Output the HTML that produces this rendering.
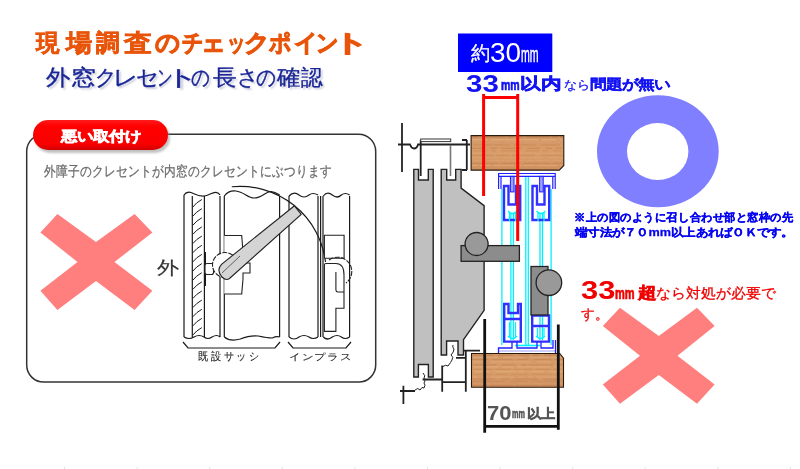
<!DOCTYPE html>
<html><head><meta charset="utf-8">
<style>
html,body{margin:0;padding:0;background:#fff;}
body{width:800px;height:469px;position:relative;overflow:hidden;font-family:"Liberation Sans",sans-serif;}
.t{position:absolute;white-space:nowrap;line-height:1;}
svg{position:absolute;left:0;top:0;}
</style></head><body>
<svg width="800" height="469" viewBox="0 0 800 469">
<defs>
<linearGradient id="pill" x1="0" y1="0" x2="0" y2="1">
<stop offset="0" stop-color="#ff1c1c"/><stop offset="0.2" stop-color="#ff0000"/><stop offset="0.8" stop-color="#fa0000"/><stop offset="1" stop-color="#d00000"/>
</linearGradient>
<linearGradient id="wood" x1="0" y1="0" x2="0" y2="1">
<stop offset="0" stop-color="#d29464"/><stop offset="0.5" stop-color="#d99e6a"/><stop offset="1" stop-color="#cf9060"/>
</linearGradient>
<filter id="sh" x="-10%" y="-20%" width="120%" height="150%"><feGaussianBlur stdDeviation="1.2"/></filter>
</defs>
<!-- ===== left panel ===== -->
<rect x="26.7" y="134.3" width="349" height="247.8" rx="17" ry="17" fill="none" stroke="#333" stroke-width="1.5"/>
<rect x="35" y="123" width="135" height="30" rx="15" ry="15" fill="#999" opacity="0.6" filter="url(#sh)"/>
<rect x="33" y="120" width="135" height="30" rx="15" ry="15" fill="url(#pill)"/>
<polygon fill="#ff7f7f" points="57.4,214 96,242 134.6,214 152.4,232.4 114.5,262 152.4,290.8 134.6,310 96,281 57.4,310 40.4,290.8 77.5,262 40.4,232.4"/>

<!-- left diagram -->
<g fill="none" stroke="#1a1a1a" stroke-width="1.2">
<!-- outer sash frame verticals -->
<path d="M184,195 V337 M192.3,196 V337 M204.4,196 V337 M220,196 V337 M224.3,196 V337 M279.6,196 V337 M289,196 V337 M318,196 V337 M320.6,196 V337 M323,196 V337 M349.6,196 V337"/>
<!-- top wavy -->
<path d="M184,195 C186,192 189,192 191,192.5 C195,194 198,196.5 204,196 C209,195.5 212,192 216,192.3 C218,192.5 219.5,194 220,195"/>
<path d="M224.3,196 C228,191 232,190.5 236,191 C244,192 248,198 254,198 C262,198 266,191 271,191.5 C275,192 278,194 279.6,195"/>
<path d="M289,196 q5,-5 10,-1 q5,4 10,0 q4,-3 9,0"/>
<path d="M323.3,196 q4,-5 9,-1 q5,4 9,0 q4,-3 8.3,0"/>
<!-- bottom wavy -->
<path d="M184,337 q5,3 10,0 q5,-3 10,0 q4,3 8,0 q5,-3 8,0"/>
<path d="M224.3,337 q6,5 16,2 q10,-4 18,-3 q9,2 14,2 q4,-2 7.3,-1"/>
<path d="M289,337 q5,4 10,0 q5,-3 10,0 q4,3 9,0"/>
<path d="M323.3,337 q4,4 9,0 q5,-3 9,0 q4,3 8.3,0"/>
<!-- hatch -->
<path stroke-width="1" d="M192.8,207.0 q3.5,-4.5 9,-7.5 M192.8,216.2 q3.5,-4.5 9,-7.5 M192.8,225.3 q3.5,-4.5 9,-7.5 M192.8,234.4 q3.5,-4.5 9,-7.5 M192.8,243.6 q3.5,-4.5 9,-7.5 M192.8,252.8 q3.5,-4.5 9,-7.5 M192.8,261.9 q3.5,-4.5 9,-7.5 M192.8,271.1 q3.5,-4.5 9,-7.5 M192.8,280.2 q3.5,-4.5 9,-7.5 M192.8,289.4 q3.5,-4.5 9,-7.5 M192.8,298.5 q3.5,-4.5 9,-7.5 M192.8,307.6 q3.5,-4.5 9,-7.5 M192.8,316.8 q3.5,-4.5 9,-7.5 M192.8,325.9 q3.5,-4.5 9,-7.5 M192.8,335.1 q3.5,-4.5 9,-7.5"/>
<!-- base plate thick -->
<path stroke-width="2" d="M205,252 V286"/>
<!-- swing arc -->
<path d="M231.75,186.75 A86,86 0 0,1 325.5,262"/>
<!-- brackets -->
<path d="M183,342 l5,6 H275 l5,-6"/>
<path d="M288,342 l5,6 H346 l5,-6"/>
</g>
<!-- outer keeper -->
<path fill="#fff" stroke="#222" stroke-width="1.1" d="M224.3,235.5 H241.7 L243,251.8 V263 H250 V273 H243 V279 L241.7,294 H224.3"/>
<rect x="205" y="263.5" width="8.5" height="11" rx="2" fill="#fff" stroke="#222" stroke-width="1.1"/>
<circle cx="225" cy="265" r="12.5" fill="#fff" stroke="#222" stroke-width="1.1" stroke-dasharray="5,1.2"/>
<!-- outer handle -->
<path fill="#d4d4d4" stroke="#222" stroke-width="1.1" d="M294.5,205.8 L221.5,264.3 Q216,270 222,277 Q226,281 229.5,278.5 L301.2,214.4 Z"/>
<path fill="none" stroke="#444" stroke-width="0.8" d="M222,273 L240,256"/>
<!-- inner crescent (inplus) -->
<path fill="#fff" stroke="#222" stroke-width="1.1" d="M324.4,235.3 H344.1 V258.3 H324.4 Z"/>
<path fill="none" stroke="#222" stroke-width="1.1" stroke-dasharray="5,1.2" d="M329,260 A14,14 0 1,1 346,283"/>
<path fill="#fff" stroke="#222" stroke-width="1.1" d="M324.4,331.4 V265 Q324.4,263.5 326,263.5 H336 Q344,263.5 344,275 V308.3 H335.9 V331.4 Z"/>
<path fill="none" stroke="#222" stroke-width="1.1" d="M335.9,272 V290 Q336,292 338,292 H344"/>
<!-- ===== right diagram ===== -->
<!-- top fixture -->
<g fill="none" stroke="#222" stroke-width="1.8">
<path d="M402,123 V172"/>
<path d="M398,144.5 H410 q1.5,4 4,4 q3,0 4,-4 H470"/>
<path d="M420.7,140 V176"/>
<path d="M466.8,140 V170 M462,140 H467 M462,170 H467"/>
</g>
<rect x="420.7" y="139" width="30" height="2.6" fill="#fff" stroke="#333" stroke-width="1"/>
<path d="M450.5,145 V176" stroke="#777" stroke-width="1.6"/>
<!-- gray profiles -->
<path fill="#c0c0c0" stroke="#222" stroke-width="1.4" d="M413.8,169.4 H418.5 V180 H428.3 V169.4 H433.2 V377 H428.4 V364.5 H418.4 V377 H413.8 Z"/>
<path fill="#c0c0c0" stroke="#222" stroke-width="1.4" d="M441.2,169.4 H446.7 V180 H455.7 V169.4 H461.1 V188.1 L484.1,205.7 V310.4 L463.5,339.7 V355 H458 V341 H446.6 V355 H441.2 Z"/>
<!-- wood top -->
<path fill="url(#wood)" d="M471.1,135.6 H563.8 V165.5 L559.3,170.1 H471.1 Z"/>
<g fill="none"><path d="M472.5,137.1 H563.0" stroke="#b27548" stroke-width="1.27" opacity="0.48" stroke-dasharray="6,4,23,2,6,3"/>
<path d="M471.7,139.8 H561.8" stroke="#e6b585" stroke-width="1.36" opacity="0.58" stroke-dasharray="16,3,25,1,22,2"/>
<path d="M472.4,142.0 H561.1" stroke="#e6b585" stroke-width="1.10" opacity="0.31" stroke-dasharray="8,1,19,4,17,3"/>
<path d="M472.9,144.9 H560.7" stroke="#bd7f4e" stroke-width="1.26" opacity="0.38" stroke-dasharray="19,2,16,4,22,5"/>
<path d="M471.9,148.3 H562.2" stroke="#bd7f4e" stroke-width="1.35" opacity="0.51" stroke-dasharray="13,6,6,4,21,5"/>
<path d="M473.0,150.9 H561.1" stroke="#b27548" stroke-width="1.36" opacity="0.27" stroke-dasharray="14,4,5,5,18,6"/>
<path d="M472.7,153.2 H561.5" stroke="#e3b07e" stroke-width="0.95" opacity="0.26" stroke-dasharray="17,3,9,2,20,3"/>
<path d="M472.0,155.4 H562.3" stroke="#bd7f4e" stroke-width="1.27" opacity="0.35" stroke-dasharray="22,2,13,3,23,6"/>
<path d="M472.2,157.9 H562.8" stroke="#e6b585" stroke-width="0.83" opacity="0.42" stroke-dasharray="10,2,15,4,11,2"/>
<path d="M473.5,160.8 H561.3" stroke="#e6b585" stroke-width="0.97" opacity="0.41" stroke-dasharray="12,2,17,1,5,2"/>
<path d="M471.7,163.4 H563.5" stroke="#b27548" stroke-width="1.36" opacity="0.30" stroke-dasharray="17,1,8,3,17,6"/>
<path d="M471.8,165.6 H562.0" stroke="#e3b07e" stroke-width="1.04" opacity="0.59" stroke-dasharray="6,2,11,2,21,2"/></g>
<path fill="none" stroke="#2a1a0a" stroke-width="1.1" d="M471.1,135.6 H563.8 V165.5 L559.3,170.1 H471.1 Z"/>
<!-- wood bottom -->
<path fill="url(#wood)" d="M471.5,353.5 H559.8 L563.5,358.1 V387.3 H471.5 Z"/>
<g fill="none"><path d="M473.1,355.1 H563.1" stroke="#b27548" stroke-width="1.23" opacity="0.44" stroke-dasharray="10,4,6,5,15,6"/>
<path d="M473.1,357.4 H562.0" stroke="#e6b585" stroke-width="1.27" opacity="0.47" stroke-dasharray="25,5,21,5,20,2"/>
<path d="M471.6,359.5 H563.4" stroke="#a96d42" stroke-width="0.84" opacity="0.35" stroke-dasharray="17,3,21,5,11,6"/>
<path d="M472.9,361.9 H562.5" stroke="#e6b585" stroke-width="1.29" opacity="0.42" stroke-dasharray="14,4,21,1,18,6"/>
<path d="M472.9,365.0 H563.0" stroke="#a96d42" stroke-width="0.76" opacity="0.53" stroke-dasharray="24,5,14,5,6,2"/>
<path d="M473.3,366.8 H562.1" stroke="#e6b585" stroke-width="1.28" opacity="0.48" stroke-dasharray="25,4,11,4,7,1"/>
<path d="M473.1,369.3 H560.7" stroke="#bd7f4e" stroke-width="1.28" opacity="0.40" stroke-dasharray="8,2,10,2,16,2"/>
<path d="M474.2,371.6 H562.4" stroke="#e6b585" stroke-width="1.27" opacity="0.41" stroke-dasharray="15,5,22,2,7,4"/>
<path d="M473.3,374.2 H561.2" stroke="#bd7f4e" stroke-width="1.03" opacity="0.30" stroke-dasharray="19,4,11,4,16,5"/>
<path d="M472.2,376.9 H562.7" stroke="#e6b585" stroke-width="1.02" opacity="0.52" stroke-dasharray="5,5,5,3,24,4"/>
<path d="M473.0,379.1 H561.1" stroke="#bd7f4e" stroke-width="1.19" opacity="0.43" stroke-dasharray="22,6,9,4,24,5"/>
<path d="M472.8,381.2 H563.3" stroke="#b27548" stroke-width="0.85" opacity="0.33" stroke-dasharray="10,2,20,6,18,3"/>
<path d="M472.9,383.3 H561.3" stroke="#e3b07e" stroke-width="0.81" opacity="0.28" stroke-dasharray="18,2,19,6,12,3"/>
<path d="M472.6,385.6 H562.5" stroke="#b27548" stroke-width="0.97" opacity="0.41" stroke-dasharray="15,2,24,2,23,2"/></g>
<path fill="none" stroke="#2a1a0a" stroke-width="1.1" d="M471.5,353.5 H559.8 L563.5,358.1 V387.3 H471.5 Z"/>
<!-- inner window -->
<g fill="none" stroke="#00f0ff" stroke-width="1.3">
<path d="M501.9,189 V345 M510.9,214 V340 M513.4,214 V340 M525.8,176 V346 M528.3,176 V346 M540,214 V340 M542.5,214 V340 M551.1,189 V345"/>
</g>
<g fill="none" stroke="#2020ff" stroke-width="1.2">
<path d="M498.6,189 V173.5 H555.2 V189 M498.6,176.4 H555.2 M501,176.4 V189 M552.8,176.4 V189"/>
</g>
<g fill="#a0a0ff" stroke="#2020ff" stroke-width="1">
<rect x="510.4" y="176.4" width="3.6" height="15.5"/>
<rect x="539.6" y="176.4" width="3.6" height="15.5"/>
</g>
<g fill="none" stroke="#3030ff" stroke-width="2.4">
<path d="M504,186 H508.5 V204.5 H516 V186 H520.2 V220 H504 Z"/>
<path d="M532.5,186 H537 V204.5 H544.5 V186 H549.2 V220 H532.5 Z"/>
<path d="M504.2,304 H508.5 V313 H518 V304 H520.8 V341.6 H504.2 Z M505,319 H520"/>
<path d="M532.2,315.5 H549 V341.6 H532.2 Z M533,326 H548"/>
</g>
<g fill="none" stroke="#00f0ff" stroke-width="1.6">
<path stroke-width="1.3" d="M508,211 Q512.5,216 517,211 M509.5,212 V221 M515.5,212 V221"/>
<path stroke-width="1.3" d="M536.5,211 Q541,216 545.5,211 M538,212 V221 M544,212 V221"/>
<path stroke-width="1.2" d="M509.5,322 V337 M515.5,322 V337 M508,336 Q512.5,341 517,336"/>
<path stroke-width="1.2" d="M537.5,328 V337 M544,328 V337 M536,336 Q540.5,341 545,336"/>
<path d="M515,345.5 H540"/>
</g>
<path fill="none" stroke="#2020ff" stroke-width="1.3" d="M498.5,353 V348 H512 V342 M517,342 V348 H537 V342 M541,342 V348 H553 V340 M555.5,340 V353"/>
<path fill="none" stroke="#8080ff" stroke-width="0.8" d="M499,351 H555"/>
<!-- red dims -->
<path fill="none" stroke="#f00" stroke-width="3" d="M483.6,196 V94 M483.6,97.5 H517.7 M517.7,94 V241"/>
<!-- crescents right -->
<rect x="461.1" y="245.6" width="58.3" height="15.7" fill="#8c8c8c" stroke="#222" stroke-width="1.3"/>
<circle cx="476.6" cy="244" r="11.5" fill="#999" stroke="#222" stroke-width="1.3"/>
<rect x="531" y="266.5" width="17" height="48.5" fill="#8c8c8c" stroke="#222" stroke-width="1.3"/>
<circle cx="548.9" cy="282.7" r="12.8" fill="#999" stroke="#222" stroke-width="1.3"/>
<!-- bottom fixture -->
<g fill="none" stroke="#222" stroke-width="1.8">
<path d="M422.6,379.5 H442.2 M442.2,365.5 V391.8 M442.2,382.2 H465.8 M465.8,350.7 V391.8 M464,350.7 H480 M456,357.8 H466"/>
<path d="M403.4,385.7 V404 M400,391 H415"/>
</g>
<g fill="none" stroke="#222" stroke-width="1">
<path d="M415,390 q3,-3 5,0 q2,-4 4,-2 q2,-3 0,-5 q2,-2 0,-5 q2,-2 -1,-5"/>
<path d="M442,367 q4,-3 6,-1 q3,-4 4,-6 q2,-3 -1,-5 q3,-3 3,-6 q-2,-2 -1,-4"/>
</g>
<!-- black dimension -->
<path fill="none" stroke="#111" stroke-width="2.8" d="M484.7,319 V432.7 M558.3,324.4 V429.7 M484.7,426.4 H558.3"/>
<!-- pink X right -->
<polygon fill="#ff7f7f" points="620,307.7 658.8,336 697,307.7 714.6,326.1 677.5,355.7 714.6,384.5 697,403.7 658.8,375 620,403.7 602.8,384.5 640,355.7 602.8,326.1"/>
<!-- ring -->
<path fill="#7f7fff" fill-rule="evenodd" d="M597,151.25a60.85,56 0 1,0 121.7,0a60.85,56 0 1,0 -121.7,0z M627,151.5a30.7,28.5 0 1,0 61.4,0a30.7,28.5 0 1,0 -61.4,0z"/>
<!-- blue box -->
<rect x="458" y="33.5" width="94.3" height="38.5" fill="#0000ff"/>
<path fill="none" stroke="#e6e6e6" stroke-width="1" d="M64.50,466.5 V469 M137.09,466.5 V469 M209.68,466.5 V469 M282.27,466.5 V469 M354.86,466.5 V469 M427.45,466.5 V469 M500.04,466.5 V469 M572.63,466.5 V469 M645.22,466.5 V469 M717.81,466.5 V469 M790.40,466.5 V469"/>
</svg>

<div class="t" style="left:36.44px;top:30.76px;font-size:25.19px;transform:scale(0.9452,0.9635);transform-origin:0 0;font-weight:bold;color:#e8550a;-webkit-text-stroke-width:0.6px;">現</div>
<div class="t" style="left:66.22px;top:30.76px;font-size:25.19px;transform:scale(1.0491,0.9635);transform-origin:0 0;font-weight:bold;color:#e8550a;-webkit-text-stroke-width:0.6px;">場</div>
<div class="t" style="left:96.46px;top:30.76px;font-size:25.19px;transform:scale(0.9525,0.9635);transform-origin:0 0;font-weight:bold;color:#e8550a;-webkit-text-stroke-width:0.6px;">調</div>
<div class="t" style="left:124.13px;top:30.76px;font-size:25.19px;transform:scale(1.1259,0.9635);transform-origin:0 0;font-weight:bold;color:#e8550a;-webkit-text-stroke-width:0.6px;">査</div>
<div class="t" style="left:155.00px;top:30.76px;font-size:25.19px;transform:scale(0.9906,0.9635);transform-origin:0 0;font-weight:bold;color:#e8550a;-webkit-text-stroke-width:1px;">の</div>
<div class="t" style="left:182.00px;top:30.76px;font-size:25.19px;transform:scale(0.8445,0.9635);transform-origin:0 0;font-weight:bold;color:#e8550a;-webkit-text-stroke-width:1px;">チ</div>
<div class="t" style="left:201.11px;top:30.76px;font-size:25.19px;transform:scale(0.9763,0.9635);transform-origin:0 0;font-weight:bold;color:#e8550a;-webkit-text-stroke-width:1px;">ェ</div>
<div class="t" style="left:226.88px;top:30.76px;font-size:25.19px;transform:scale(0.7401,0.9635);transform-origin:0 0;font-weight:bold;color:#e8550a;-webkit-text-stroke-width:1px;">ッ</div>
<div class="t" style="left:244.37px;top:30.76px;font-size:25.19px;transform:scale(1.0240,0.9635);transform-origin:0 0;font-weight:bold;color:#e8550a;-webkit-text-stroke-width:1px;">ク</div>
<div class="t" style="left:269.25px;top:30.76px;font-size:25.19px;transform:scale(0.8856,0.9635);transform-origin:0 0;font-weight:bold;color:#e8550a;-webkit-text-stroke-width:1px;">ポ</div>
<div class="t" style="left:293.62px;top:30.76px;font-size:25.19px;transform:scale(0.9442,0.9635);transform-origin:0 0;font-weight:bold;color:#e8550a;-webkit-text-stroke-width:1px;">イ</div>
<div class="t" style="left:316.40px;top:30.76px;font-size:25.19px;transform:scale(0.8883,0.9635);transform-origin:0 0;font-weight:bold;color:#e8550a;-webkit-text-stroke-width:1px;">ン</div>
<div class="t" style="left:332.59px;top:30.76px;font-size:25.19px;transform:scale(1.4265,0.9635);transform-origin:0 0;font-weight:bold;color:#e8550a;-webkit-text-stroke-width:1px;">ト</div>
<div class="t" style="left:45.54px;top:66.88px;font-size:22.53px;transform:scale(1.0920,0.9850);transform-origin:0 0;color:#1a2696;text-shadow:2px 2px 2px #c8c8d8;-webkit-text-stroke-width:0.35px;">外</div>
<div class="t" style="left:71.27px;top:66.88px;font-size:22.53px;transform:scale(1.1193,0.9850);transform-origin:0 0;color:#1a2696;text-shadow:2px 2px 2px #c8c8d8;-webkit-text-stroke-width:0.35px;">窓</div>
<div class="t" style="left:95.12px;top:66.88px;font-size:22.53px;transform:scale(0.9572,0.9850);transform-origin:0 0;color:#1a2696;text-shadow:2px 2px 2px #c8c8d8;-webkit-text-stroke-width:0.35px;">ク</div>
<div class="t" style="left:113.22px;top:66.88px;font-size:22.53px;transform:scale(1.1041,0.9850);transform-origin:0 0;color:#1a2696;text-shadow:2px 2px 2px #c8c8d8;-webkit-text-stroke-width:0.35px;">レ</div>
<div class="t" style="left:136.00px;top:66.88px;font-size:22.53px;transform:scale(1.0000,0.9850);transform-origin:0 0;color:#1a2696;text-shadow:2px 2px 2px #c8c8d8;-webkit-text-stroke-width:0.35px;">セ</div>
<div class="t" style="left:157.17px;top:66.88px;font-size:22.53px;transform:scale(0.6968,0.9850);transform-origin:0 0;color:#1a2696;text-shadow:2px 2px 2px #c8c8d8;-webkit-text-stroke-width:0.35px;">ン</div>
<div class="t" style="left:164.70px;top:66.88px;font-size:22.53px;transform:scale(1.4838,0.9850);transform-origin:0 0;color:#1a2696;text-shadow:2px 2px 2px #c8c8d8;-webkit-text-stroke-width:0.35px;">ト</div>
<div class="t" style="left:191.41px;top:66.88px;font-size:22.53px;transform:scale(0.8412,0.9850);transform-origin:0 0;color:#1a2696;text-shadow:2px 2px 2px #c8c8d8;-webkit-text-stroke-width:0.35px;">の</div>
<div class="t" style="left:212.77px;top:66.88px;font-size:22.53px;transform:scale(1.0578,0.9850);transform-origin:0 0;color:#1a2696;text-shadow:2px 2px 2px #c8c8d8;-webkit-text-stroke-width:0.35px;">長</div>
<div class="t" style="left:236.72px;top:66.88px;font-size:22.53px;transform:scale(0.9393,0.9850);transform-origin:0 0;color:#1a2696;text-shadow:2px 2px 2px #c8c8d8;-webkit-text-stroke-width:0.35px;">さ</div>
<div class="t" style="left:255.81px;top:66.88px;font-size:22.53px;transform:scale(0.8875,0.9850);transform-origin:0 0;color:#1a2696;text-shadow:2px 2px 2px #c8c8d8;-webkit-text-stroke-width:0.35px;">の</div>
<div class="t" style="left:277.38px;top:66.88px;font-size:22.53px;transform:scale(1.0466,0.9850);transform-origin:0 0;color:#1a2696;text-shadow:2px 2px 2px #c8c8d8;-webkit-text-stroke-width:0.35px;">確</div>
<div class="t" style="left:301.40px;top:66.88px;font-size:22.53px;transform:scale(0.9684,0.9850);transform-origin:0 0;color:#1a2696;text-shadow:2px 2px 2px #c8c8d8;-webkit-text-stroke-width:0.35px;">認</div>
<div class="t" style="left:61.07px;top:129.00px;font-size:14.27px;transform:scale(1.1408,0.9685);transform-origin:0 0;font-weight:bold;color:#fff;-webkit-text-stroke-width:0.7px;">悪い取付け</div>
<div class="t" style="left:43.66px;top:164.76px;font-size:13.60px;transform:scale(0.8572,1.0257);transform-origin:0 0;color:#6a6a6a;-webkit-text-stroke-width:0.25px;">外障子のクレセントが内窓のクレセントにぶつります</div>
<div class="t" style="left:157.48px;top:260.34px;font-size:18.80px;transform:scale(1.1460,0.9316);transform-origin:0 0;color:#333;-webkit-text-stroke-width:0.2px;">外</div>
<div class="t" style="left:470.58px;top:43.44px;font-size:20.11px;transform:scale(0.9384,0.9748);transform-origin:0 0;color:#fff;-webkit-text-stroke-width:0.3px;">約</div>
<div class="t" style="left:489.55px;top:39.36px;font-size:26.06px;transform:scale(1.0722,1.0293);transform-origin:0 0;color:#fff;">30</div>
<div class="t" style="left:520.84px;top:44.18px;font-size:20.09px;transform:scale(0.5245,1.0607);transform-origin:0 0;color:#fff;-webkit-text-stroke-width:0.5px;">mm</div>
<div class="t" style="left:465.97px;top:72.53px;font-size:23.52px;transform:scale(1.2526,0.9792);transform-origin:0 0;font-weight:bold;color:#1212f2;">33</div>
<div class="t" style="left:500.74px;top:77.53px;font-size:18.75px;transform:scale(0.5620,0.7991);transform-origin:0 0;font-weight:bold;color:#1212f2;-webkit-text-stroke-width:0.9px;">mm</div>
<div class="t" style="left:520.35px;top:76.37px;font-size:17.68px;transform:scale(1.1934,0.9226);transform-origin:0 0;font-weight:bold;color:#1212f2;-webkit-text-stroke-width:0.6px;">以内</div>
<div class="t" style="left:564.19px;top:79.37px;font-size:13.66px;transform:scale(0.9624,0.8951);transform-origin:0 0;color:#1212f2;-webkit-text-stroke-width:0.3px;">なら</div>
<div class="t" style="left:590.00px;top:77.19px;font-size:14.22px;transform:scale(1.1502,0.9690);transform-origin:0 0;font-weight:bold;color:#1212f2;-webkit-text-stroke-width:0.35px;">問題が無い</div>
<div class="t" style="left:573.76px;top:211.87px;font-size:10.64px;transform:scale(1.0503,1.0271);transform-origin:0 0;font-weight:bold;color:#0505f0;-webkit-text-stroke-width:0.3px;">※上の図のように召し合わせ部と窓枠の先</div>
<div class="t" style="left:574.83px;top:227.30px;font-size:12.40px;transform:scale(1.0216,0.8934);transform-origin:0 0;font-weight:bold;color:#0505f0;-webkit-text-stroke-width:0.3px;">端寸法が７０mm以上あればＯＫです。</div>
<div class="t" style="left:580.88px;top:277.61px;font-size:25.92px;transform:scale(1.1894,1.0018);transform-origin:0 0;font-weight:bold;color:#f00000;">33</div>
<div class="t" style="left:614.84px;top:284.94px;font-size:20.54px;transform:scale(0.5379,0.8140);transform-origin:0 0;font-weight:bold;color:#f00000;-webkit-text-stroke-width:0.9px;">mm</div>
<div class="t" style="left:637.56px;top:284.80px;font-size:17.68px;transform:scale(1.0694,0.9226);transform-origin:0 0;font-weight:bold;color:#f00000;-webkit-text-stroke-width:0.6px;">超</div>
<div class="t" style="left:656.40px;top:285.59px;font-size:15.34px;transform:scale(0.9958,0.9390);transform-origin:0 0;color:#f00000;-webkit-text-stroke-width:0.3px;">なら対処が必要で</div>
<div class="t" style="left:581.41px;top:306.93px;font-size:14.79px;transform:scale(0.9393,0.9697);transform-origin:0 0;color:#f00000;-webkit-text-stroke-width:0.3px;">す。</div>
<div class="t" style="left:486.57px;top:401.87px;font-size:20.14px;transform:scale(1.0942,1.0377);transform-origin:0 0;font-weight:bold;color:#555;">70</div>
<div class="t" style="left:512.28px;top:406.69px;font-size:16.07px;transform:scale(0.4489,0.7922);transform-origin:0 0;font-weight:bold;color:#555;-webkit-text-stroke-width:0.8px;">mm</div>
<div class="t" style="left:526.99px;top:407.72px;font-size:13.80px;transform:scale(1.0184,0.9306);transform-origin:0 0;font-weight:bold;color:#555;-webkit-text-stroke-width:0.5px;">以上</div>
<div class="t" style="left:198.48px;top:351.19px;font-size:9.59px;transform:scale(1.0659,1.1583);transform-origin:0 0;color:#222;letter-spacing:2px;-webkit-text-stroke-width:0.1px;">既設サッシ</div>
<div class="t" style="left:288.84px;top:352.59px;font-size:9.49px;transform:scale(1.1574,0.9061);transform-origin:0 0;color:#222;letter-spacing:2px;-webkit-text-stroke-width:0.1px;">インプラス</div>
</body></html>
